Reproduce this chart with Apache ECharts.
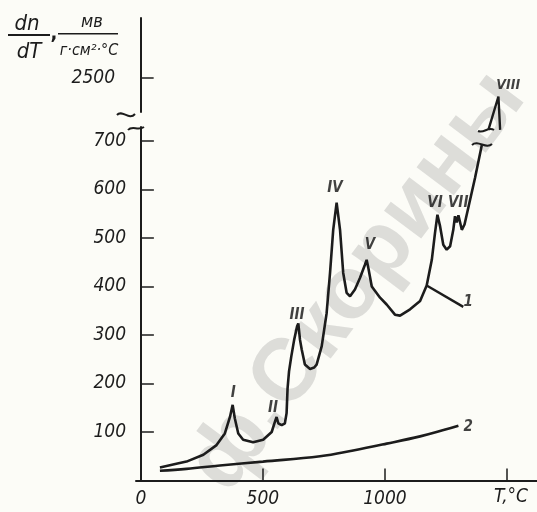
<!DOCTYPE html>
<html>
<head>
<meta charset="utf-8">
<script src="https://cdn.jsdelivr.net/npm/echarts@6/dist/echarts.min.js"></script>
<style>
html,body{margin:0;padding:0;background:#fcfcf7;}
#c{width:537px;height:512px;}
</style>
</head>
<body>
<div id="c"></div>
<script>
// Curve 1 (main) : T, °C and dn/dT
const T1 = [78, 150, 187, 256, 310, 344, 365, 376, 385, 399, 419, 460, 501, 536, 549, 556, 563, 577, 590, 597, 601, 607, 616, 628, 640, 645, 652, 659, 672, 693, 710, 720, 741, 761, 775, 788, 802, 816, 829, 843, 857, 877, 898, 918, 925, 932, 946, 980, 1007, 1041, 1062, 1103, 1144, 1171, 1192, 1205, 1215, 1226, 1239, 1253, 1267, 1280, 1287, 1294, 1301, 1315, 1326, 1369, 1397];
const V1 = [27, 35, 39, 53, 73, 97, 131, 156, 128, 97, 84, 79, 84, 100, 121, 131, 118, 114, 118, 139, 190, 225, 255, 290, 318, 324, 290, 270, 239, 230, 233, 239, 277, 345, 428, 517, 573, 517, 428, 387, 380, 394, 418, 445, 455, 438, 400, 377, 363, 342, 340, 353, 370, 402, 455, 510, 548, 524, 486, 476, 483, 517, 545, 532, 547, 517, 528, 624, 692];
// Curve 1, lower branch
const T1b = [1171, 1321];
const V1b = [402, 358];
// Curve 1, part above the axis break (peak VIII)
const T1top = [1424, 1465, 1472];
const V1top = [2393, 2462, 2393];
// Curve 2
const T2 = [78, 187, 324, 500, 734, 870, 1007, 1144, 1240, 1301];
const V2 = [20, 24, 31, 39, 50, 62, 76, 91, 104, 113];
// Peak / curve labels
const labelNames = ['I', 'II', 'III', 'IV', 'V', 'VI', 'VII', '1', '2'];
const labelT = [378, 541, 640, 795, 939, 1205, 1300, 1341, 1341];
const labelV = [181, 149, 341, 603, 486, 572, 572, 368, 110];
const topLabelNames = ['VIII'];
const topLabelT = [1505];
const topLabelV = [2486];
// Axis ticks
const xTicks = [500, 1000, 1500];
const xTickLabels = [0, 500, 1000];
const yTicks = [100, 200, 300, 400, 500, 600, 700];
const yTopTicks = [2500];

const ink = '#1c1c1c';
const numFont = "'Liberation Sans Narrow','DejaVu Sans Condensed','Liberation Sans',sans-serif";
const zip = (a, b) => a.map((v, i) => [v, b[i]]);

const chart = echarts.init(document.getElementById('c'), null, {renderer: 'canvas'});

const axisLabelStyle = {color: ink, fontStyle: 'italic', fontSize: 19, fontFamily: numFont, formatter: v => String(v)};

chart.setOption({
  animation: false,
  backgroundColor: '#fcfcf7',
  grid: [
    {left: 136, right: 0, top: 127, bottom: 31.5, containLabel: false},
    {left: 126, right: 0, top: 18, bottom: 400, containLabel: false}
  ],
  xAxis: [
    {
      type: 'value', gridIndex: 0, min: -20, max: 1623,
      axisLine: {show: true, lineStyle: {color: ink, width: 2}},
      axisTick: {show: true, inside: true, length: 12, customValues: xTicks, lineStyle: {color: ink, width: 1.5}},
      axisLabel: Object.assign({customValues: xTickLabels, margin: 9}, axisLabelStyle),
      splitLine: {show: false}
    },
    {
      type: 'value', gridIndex: 1, min: -60, max: 1623, show: false,
      splitLine: {show: false}
    }
  ],
  yAxis: [
    {
      type: 'value', gridIndex: 0, min: 0, max: 729,
      axisLine: {show: true, lineStyle: {color: ink, width: 2}},
      axisTick: {show: true, inside: true, length: 13, customValues: yTicks, lineStyle: {color: ink, width: 1.5}},
      axisLabel: Object.assign({customValues: yTicks, margin: 10}, axisLabelStyle),
      splitLine: {show: false}
    },
    {
      type: 'value', gridIndex: 1, min: 2430, max: 2624,
      axisLine: {show: true, lineStyle: {color: ink, width: 2}},
      axisTick: {show: true, inside: true, length: 13, customValues: yTopTicks, lineStyle: {color: ink, width: 1.5}},
      axisLabel: Object.assign({customValues: yTopTicks, margin: 11}, axisLabelStyle),
      splitLine: {show: false}
    }
  ],
  series: [
    {
      type: 'line', xAxisIndex: 0, yAxisIndex: 0, data: zip(T1, V1), symbol: 'none',
      lineStyle: {color: ink, width: 2.6}, z: 5
    },
    {
      type: 'line', xAxisIndex: 0, yAxisIndex: 0, data: zip(T1b, V1b), symbol: 'none',
      lineStyle: {color: ink, width: 2.4}, z: 5
    },
    {
      type: 'line', xAxisIndex: 1, yAxisIndex: 1, data: zip(T1top, V1top), symbol: 'none', clip: false,
      lineStyle: {color: ink, width: 2.4}, z: 5
    },
    {
      type: 'line', xAxisIndex: 0, yAxisIndex: 0, data: zip(T2, V2), symbol: 'none', smooth: 0.4,
      lineStyle: {color: ink, width: 2.6}, z: 5
    },
    {
      type: 'scatter', xAxisIndex: 0, yAxisIndex: 0, symbolSize: 1,
      itemStyle: {color: 'rgba(0,0,0,0)'},
      data: labelNames.map((n, i) => ({name: n, value: [labelT[i], labelV[i]]})),
      label: {show: true, position: 'inside', formatter: p => p.name, color: '#111',
        fontStyle: 'italic', fontWeight: 'bold', fontSize: 15, fontFamily: numFont},
      silent: true, z: 6
    },
    {
      type: 'scatter', xAxisIndex: 1, yAxisIndex: 1, symbolSize: 1, clip: false,
      itemStyle: {color: 'rgba(0,0,0,0)'},
      data: topLabelNames.map((n, i) => ({name: n, value: [topLabelT[i], topLabelV[i]]})),
      label: {show: true, position: 'inside', formatter: p => p.name, color: '#111',
        fontStyle: 'italic', fontWeight: 'bold', fontSize: 14, fontFamily: numFont},
      silent: true, z: 6
    }
  ],
  graphic: [
    // watermark
    {type: 'text', x: 358, y: 282, rotation: 53 * Math.PI / 180, z: 0, silent: true,
      style: {text: 'ф.Скорины', fill: 'rgba(150,150,150,0.3)', font: "bold 88px 'Liberation Sans', sans-serif",
        align: 'center', verticalAlign: 'middle'}},
    // y-axis title
    {type: 'text', x: 27, y: 24, z: 10, style: {text: 'dn', fill: ink, font: "italic 22px " + numFont, align: 'center', verticalAlign: 'middle'}},
    {type: 'rect', z: 10, shape: {x: 8, y: 34, width: 42, height: 2}, style: {fill: ink}},
    {type: 'text', x: 29, y: 52, z: 10, style: {text: 'dT', fill: ink, font: "italic 22px " + numFont, align: 'center', verticalAlign: 'middle'}},
    {type: 'text', x: 54, y: 34, z: 10, style: {text: ',', fill: ink, font: "bold 20px " + numFont, align: 'center', verticalAlign: 'middle'}},
    {type: 'text', x: 92, y: 22, z: 10, style: {text: 'мв', fill: ink, font: "italic 18px " + numFont, align: 'center', verticalAlign: 'middle'}},
    {type: 'rect', z: 10, shape: {x: 58, y: 33, width: 60, height: 1.6}, style: {fill: ink}},
    {type: 'text', x: 89, y: 51, z: 10, style: {text: 'г·см²·°C', fill: ink, font: "italic 16px " + numFont, align: 'center', verticalAlign: 'middle'}},
    // x-axis title
    {type: 'text', x: 511, y: 497, z: 10, style: {text: 'T,°C', fill: ink, font: "italic 19px " + numFont, align: 'center', verticalAlign: 'middle'}},
    // axis break marks
    {type: 'bezierCurve', z: 10, shape: {x1: 117, y1: 115, cpx1: 122, cpy1: 109, cpx2: 129, cpy2: 121, x2: 135, y2: 114}, style: {stroke: ink, lineWidth: 2, fill: null}},
    {type: 'bezierCurve', z: 10, shape: {x1: 128, y1: 130, cpx1: 132, cpy1: 125, cpx2: 138, cpy2: 131, x2: 144, y2: 127}, style: {stroke: ink, lineWidth: 2, fill: null}},
    // curve break marks
    {type: 'bezierCurve', z: 10, shape: {x1: 472, y1: 145, cpx1: 478, cpy1: 139, cpx2: 486, cpy2: 150, x2: 492, y2: 144}, style: {stroke: ink, lineWidth: 2, fill: null}},
    {type: 'bezierCurve', z: 10, shape: {x1: 478, y1: 131, cpx1: 484, cpy1: 134, cpx2: 488, cpy2: 126, x2: 494, y2: 130}, style: {stroke: ink, lineWidth: 2, fill: null}}
  ]
});
</script>
</body>
</html>
